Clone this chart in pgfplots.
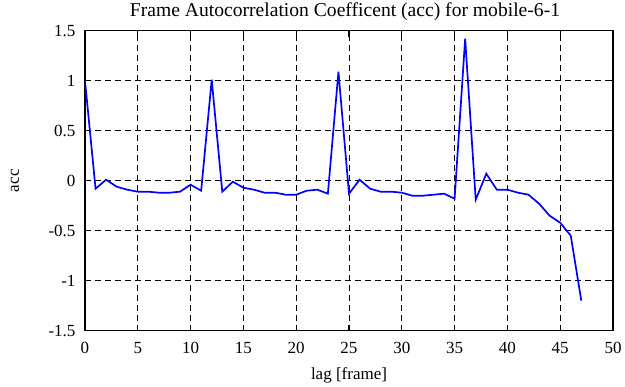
\documentclass[border=0pt]{standalone}
\usepackage{pgfplots}
\pgfplotsset{compat=1.18}
\usepackage{fontspec}
\setmainfont{Liberation Serif}
\begin{document}
\begin{tikzpicture}
\begin{axis}[
  scale only axis,
  width=528pt, height=300pt,
  xmin=0, xmax=50, ymin=-1.5, ymax=1.5,
  xtick={0,5,...,50}, ytick={-1.5,-1,...,1.5},
  yticklabels={-1.5,-1,-0.5,0,0.5,1,1.5},
  /pgf/number format/assume math mode=true,
  tick label style={font=\fontsize{17}{18}\selectfont},
  xticklabel style={yshift=-8pt},
  yticklabel style={xshift=-6pt},
  tick align=inside,
  major tick length=6pt,
  tick style={black, line width=1.2pt},
  axis line style={line width=1.4pt},
  grid=major,
  major grid style={black, line width=0.7pt, dash pattern=on 6pt off 4pt},
  xlabel={lag [frame]},
  ylabel={acc},
  label style={font=\fontsize{17}{18}\selectfont},
  xlabel style={at={(axis description cs:0.5,0)}, anchor=center, yshift=-45pt},
  ylabel style={at={(axis description cs:0,0.5)}, anchor=center, yshift=70pt},
  title={Frame Autocorrelation Coefficent (acc) for mobile-6-1},
  title style={font=\fontsize{19.6}{20}\selectfont, at={(axis description cs:0.5,1)}, anchor=center, yshift=13.5pt, xshift=-4pt},
]
\addplot[blue, line width=1.7pt] coordinates {
(0,1.00) (1,-0.08) (2,0.01) (3,-0.06) (4,-0.09) (5,-0.11) (6,-0.11) (7,-0.12)
(8,-0.12) (9,-0.11) (10,-0.04) (11,-0.10) (12,1.01) (13,-0.11) (14,-0.01)
(15,-0.07) (16,-0.09) (17,-0.12) (18,-0.12) (19,-0.14) (20,-0.14) (21,-0.10)
(22,-0.09) (23,-0.13) (24,1.09) (25,-0.13) (26,0.01) (27,-0.08) (28,-0.11)
(29,-0.11) (30,-0.12) (31,-0.15) (32,-0.15) (33,-0.14) (34,-0.13) (35,-0.18)
(36,1.42) (37,-0.19) (38,0.07) (39,-0.09) (40,-0.09) (41,-0.12) (42,-0.14)
(43,-0.23) (44,-0.35) (45,-0.42) (46,-0.55) (47,-1.20)
};
\end{axis}
\pgfresetboundingbox
\path[use as bounding box] (-85pt,-56.3pt) rectangle (540pt,330.7pt);
\end{tikzpicture}
\end{document}
